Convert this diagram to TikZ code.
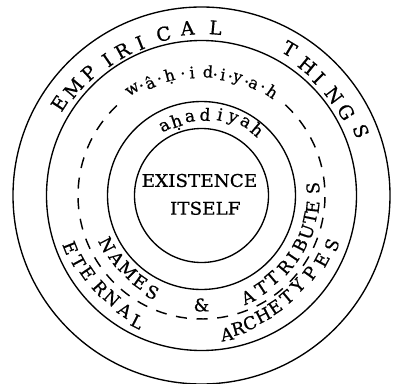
\documentclass[tikz,border=0pt]{standalone}
\usepackage{fontspec}
\setmainfont{DejaVu Serif}[FakeBold=0.6]
\begin{document}
\begin{tikzpicture}[
  ring/.style={line width=1.35pt},
  dashring/.style={line width=1.45pt, dash pattern=on 11pt off 9.7pt},
  bigcap/.style={font=\fontsize{19}{19}\selectfont, anchor=center, inner sep=0pt},
  midcap/.style={font=\fontsize{17.5}{17.5}\selectfont, anchor=center, inner sep=0pt},
  lowtxt/.style={font=\fontsize{16}{16}\selectfont, anchor=base, inner sep=0pt},
  ahatxt/.style={font=\fontsize{17}{17}\selectfont, anchor=base, inner sep=0pt},
  centretxt/.style={font=\fontsize{17.5}{20}\selectfont, xscale=1.05, inner sep=0pt}
]
\useasboundingbox (-201.5pt,-187.5pt) rectangle (193.5pt,195.5pt);
\fill[white] (-201.5pt,-187.5pt) rectangle (193.5pt,195.5pt);

% rings
\draw[ring] (0,0) circle[radius=188.5pt];
\draw[ring] (0,0) circle[radius=155pt];
\draw[ring] (0,0) circle[radius=94pt];
\draw[ring] (0,0) circle[radius=67pt];
\draw[dashring] (133.25:123.5pt) arc[start angle=133.25, end angle=407.25, radius=123.5pt];

% centre
\node[centretxt] (ex) at (-2pt,15pt) {EXISTENCE};
\node[centretxt] (it) at (3.8pt,-12.8pt) {ITSELF};

% EMPIRICAL THINGS
\foreach \l/\a/\r [count=\i] in {E/147/169.5,M/140/167,P/132.6/166.5,I/124.8/165,R/118.6/165,I/111.9/164.5,C/103.2/166,A/94.8/168,L/85.2/168.5,T/59/171,H/50.8/167.5,I/45/166,N/37.1/166,G/30/167,S/22/172}
  \node[bigcap, rotate=\a-90] (emp\i) at (\a:\r pt) {\l};

% wahidiyah
\foreach \l/\a/\r [count=\i] in {w/123/122.3,·/118.7/119.7,â/114.6/118.1,·/109.8/118.7,ḥ/104.9/118.7,·/98.7/117.9,i/94.4/117.5,d/87/118.2,·/83.5/116,i/79.9/117,·/76.4/116.9,y/73/118.9,·/68.4/117,a/65/118.5,·/60.6/119.4,h/55.7/119.7}
  \node[lowtxt, rotate=\a-90] (wah\i) at (\a:\r pt) {\l};

% ahadiyah
\foreach \l/\a/\r [count=\i] in {a/118/73.9,ḥ/108.7/72.5,a/98.4/74.6,d/87.5/74.8,i/77/77,y/68/79.4,a/59/80.8,h/49.7/80}
  \node[ahatxt, rotate=\a-90] (aha\i) at (\a:\r pt) {\l};

% NAMES & ATTRIBUTES
\foreach \l/\a/\r [count=\i] in {N/207.6/106.7,A/216.5/105.5,M/225.4/105,E/234.6/106,S/243/108.5}
  \node[midcap, rotate=\a+90] (nam\i) at (\a:\r pt) {\l};
\node[midcap, rotate=360] (amp) at (270:109.5pt) {\&};
\foreach \l/\a/\r [count=\i] in {A/294.6/111.5,T/303/110.5,T/310.5/109,R/319.4/110,I/326/110.2,B/333.3/110.3,U/340.9/111.3,T/348.3/110.8,E/354/111.8,S/363.8/111.7}
  \node[midcap, rotate=\a+90] (att\i) at (\a:\r pt) {\l};

% ETERNAL ARCHETYPES
\foreach \l/\a/\r [count=\i] in {E/201.8/141.2,T/208.3/140,E/214.3/137.8,R/222.3/137.3,N/228.9/136.5,A/236.3/138,L/243/141.5}
  \node[midcap, rotate=\a+90] (ete\i) at (\a:\r pt) {\l};
\foreach \l/\a/\r [count=\i] in {A/280.4/141,R/285.4/137.8,C/290.8/136.4,H/297.2/134.6,E/303.4/133.6,T/310/132.8,Y/316.9/131.8,P/324.5/133.5,E/331.8/136.5,S/339.2/139.5}
  \node[midcap, rotate=\a+90] (arc\i) at (\a:\r pt) {\l};
\end{tikzpicture}
\end{document}
